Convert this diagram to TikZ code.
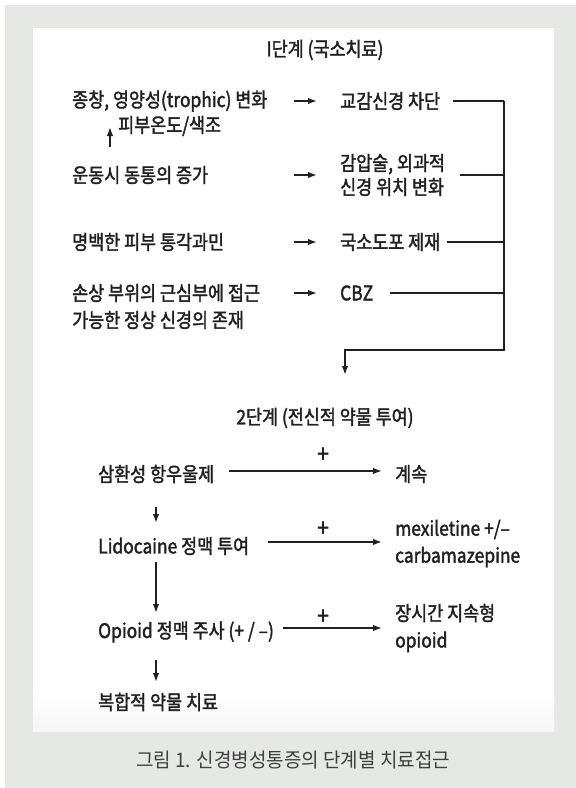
\documentclass[tikz,border=0pt]{standalone}
\usepackage{fontspec}
\setmainfont{Noto Sans CJK KR}[FakeStretch=0.87, FakeBold=1.8]
\newfontfamily\capfont{Noto Sans CJK KR}[FakeStretch=0.95]
\usetikzlibrary{positioning, arrows.meta}
\definecolor{framegray}{RGB}{230,232,230}
\definecolor{inkgray}{RGB}{35,31,32}
\tikzset{
    >={Latex[length=9pt,width=6.5pt]}, % filled arrow heads
    txt/.style={anchor=west, inner sep=0pt, font=\fontsize{20}{27}\selectfont, text=inkgray, align=left}, % every label in the chart
    ttl/.style={inner sep=0pt, font=\fontsize{20}{20}\selectfont, text=inkgray}, % stage titles
    plus/.style={inner sep=0pt, font=\fontsize{24}{24}\selectfont, text=inkgray}, % plus signs over the arrows
    link/.style={line width=1.5pt, draw=inkgray}, % connectors
}
\begin{document}
\begin{tikzpicture}[x=1pt, y=-1pt]
    \useasboundingbox (0,0) rectangle (576,788);
    \fill[framegray] (5,5) rectangle (576,788);
    \fill[white] (33,28) rectangle (554,731);
    \shade[top color=white, bottom color=gray!7] (33,690) rectangle (554,731);

    % stage 1
    \node[ttl] (stage1) at (325,50) {I단계 (국소치료)};
    \node[txt] (swell) at (72,101) {종창, 영양성(trophic) 변화};
    \node[txt] (skin) at (118,126) {피부온도/색조};
    \node[txt] (pain) at (72,175) {운동시 동통의 증가};
    \node[txt] (hyper) at (72,242) {명백한 피부 통각과민};
    \node[txt] (nerve) at (72,306.5) {손상 부위의 근심부에 접근\\가능한 정상 신경의 존재};
    \node[txt] (symp) at (340,101) {교감신경 차단};
    \node[txt, font=\fontsize{20}{24}\selectfont] (decomp) at (340,175) {감압술, 외과적\\신경 위치 변화};
    \node[txt] (topic) at (340,242) {국소도포 제재};
    \node[txt] (cbz) at (340,293) {CBZ};
    \coordinate (bus) at (504,350);
    \coordinate (drop) at (345,350);
    \coordinate (droptip) at (345,375);

    \draw[->, link] ([xshift=-8pt, yshift=-21pt]skin.west) -- ([xshift=-8pt, yshift=-1pt]skin.west);
    \foreach \n in {symp, decomp, topic, cbz}
        \draw[->, link, shorten >=23pt] ([xshift=-46pt]\n.west) -- (\n.west);
    \draw[link] ([xshift=13pt]symp.east) -- (symp.east -| bus);
    \draw[link] ([xshift=15pt]decomp.east) -- (decomp.east -| bus);
    \draw[link] ([xshift=7pt]topic.east) -- (topic.east -| bus);
    \draw[link] ([xshift=17pt]cbz.east) -- (cbz.east -| bus);
    \draw[->, link] (symp.east -| bus) -- (bus) -- (drop) -- (droptip);

    % stage 2
    \node[ttl] (stage2) at (325,418) {2단계 (전신적 약물 투여)};
    \node[txt] (tca) at (98,474) {삼환성 항우울제};
    \node[txt] (lido) at (98,546) {Lidocaine 정맥 투여};
    \node[txt] (opio) at (98,632) {Opioid 정맥 주사 (+ / –)};
    \node[txt] (combo) at (98,702) {복합적 약물 치료};
    \node[txt] (keep) at (395,474) {계속};
    \node[txt] (mexi) at (395,543.5) {mexiletine +/–\\carbamazepine};
    \node[txt] (longop) at (395,628) {장시간 지속형\\opioid};
    \node[plus] (plus1) at (323,455) {+};
    \node[plus] (plus2) at (323,529) {+};
    \node[plus] (plus3) at (323,617) {+};
    \coordinate (col) at (156,0);

    \draw[->, link] ([xshift=15pt, yshift=3pt]tca.east) -- ([xshift=-13pt, yshift=3pt]keep.west);
    \draw[->, link] ([xshift=19pt, yshift=4pt]lido.east) -- ([xshift=-13pt, yshift=1.5pt]mexi.west);
    \draw[->, link] ([xshift=9pt, yshift=4pt]opio.east) -- ([xshift=-13pt]longop.west);
    \draw[->, link, shorten <=33pt, shorten >=23pt] (tca -| col) -- (lido -| col);
    \draw[->, link, shorten <=16pt, shorten >=19pt] (lido -| col) -- (opio -| col);
    \draw[->, link, shorten <=28pt, shorten >=20pt] (opio -| col) -- (combo -| col);

    \node[inner sep=0pt, font=\capfont\fontsize{20}{20}\selectfont, text=black!75] (caption) at (293,760) {그림 1. 신경병성통증의 단계별 치료접근};
\end{tikzpicture}
\end{document}
